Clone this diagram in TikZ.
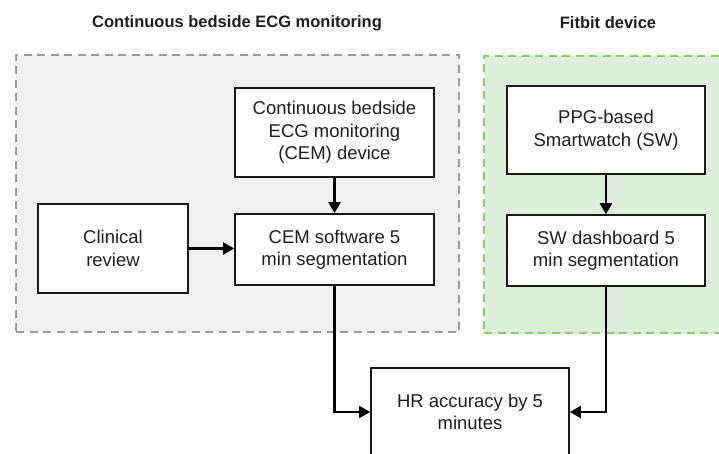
\documentclass[tikz,border=0pt]{standalone}
\usepackage{fontspec}
\setmainfont{Liberation Sans}
\usetikzlibrary{arrows.meta,positioning}
\definecolor{grayfill}{HTML}{F0F0F0}
\definecolor{graydash}{HTML}{9A9A9A}
\definecolor{greenfill}{HTML}{DCEFD8}
\definecolor{greendash}{HTML}{78D85A}
\definecolor{txt}{HTML}{1E1E1E}
\tikzset{
  group/.style={draw, line width=2.2pt, dash pattern=on 8pt off 5.5pt, inner sep=0pt},
  boxnode/.style={draw=black!90, line width=1.7pt, fill=white, align=center, text=txt,
    inner sep=2pt, font=\fontsize{18.5}{22.5}\selectfont},
  title/.style={font=\fontsize{16.5}{19}\selectfont\bfseries, text=txt, inner sep=0pt},
  arr/.style={draw=black, line width=2.2pt, -{Triangle[length=11pt,width=12pt]}},
}
\begin{document}
\begin{tikzpicture}[x=1pt,y=-1pt]
\useasboundingbox (0,0) rectangle (719,454);
% group containers
\node[group, draw=graydash, fill=grayfill, minimum width=443pt, minimum height=277pt] (ecggrp) at (237.5,193.5) {};
\node[group, draw=greendash, fill=greenfill, minimum width=242pt, minimum height=277pt] (fitgrp) at (605,194.5) {};
% titles
\node[title] (t1) at (237,23) {Continuous bedside ECG monitoring};
\node[title] (t2) at (608,23) {Fitbit device};
% boxes
\node[boxnode, minimum width=199pt, minimum height=89pt] (cemdev) at (334.5,132.5) {Continuous bedside\\ECG monitoring\\(CEM) device};
\node[boxnode, minimum width=199pt, minimum height=71pt] (cemsw) at (334.5,249.5) {CEM software 5\\min segmentation};
\node[boxnode, minimum width=150pt, minimum height=89pt] (clin) at (113,248.5) {Clinical\\review};
\node[boxnode, minimum width=198pt, minimum height=88pt] (ppg) at (606,130) {PPG-based\\Smartwatch (SW)};
\node[boxnode, minimum width=198pt, minimum height=71pt] (swd) at (606,250.5) {SW dashboard 5\\min segmentation};
\node[boxnode, minimum width=198pt, minimum height=88pt] (hr) at (470,412) {HR accuracy by 5\\minutes};
% connectors
\draw[arr] (cemdev) -- (cemsw);
\draw[arr] (clin.east) -- (clin.east -| cemsw.west);
\draw[arr] (ppg) -- (swd);
\draw[arr] (cemsw.south) |- (hr.west);
\draw[arr] (swd.south) |- (hr.east);
\end{tikzpicture}
\end{document}
